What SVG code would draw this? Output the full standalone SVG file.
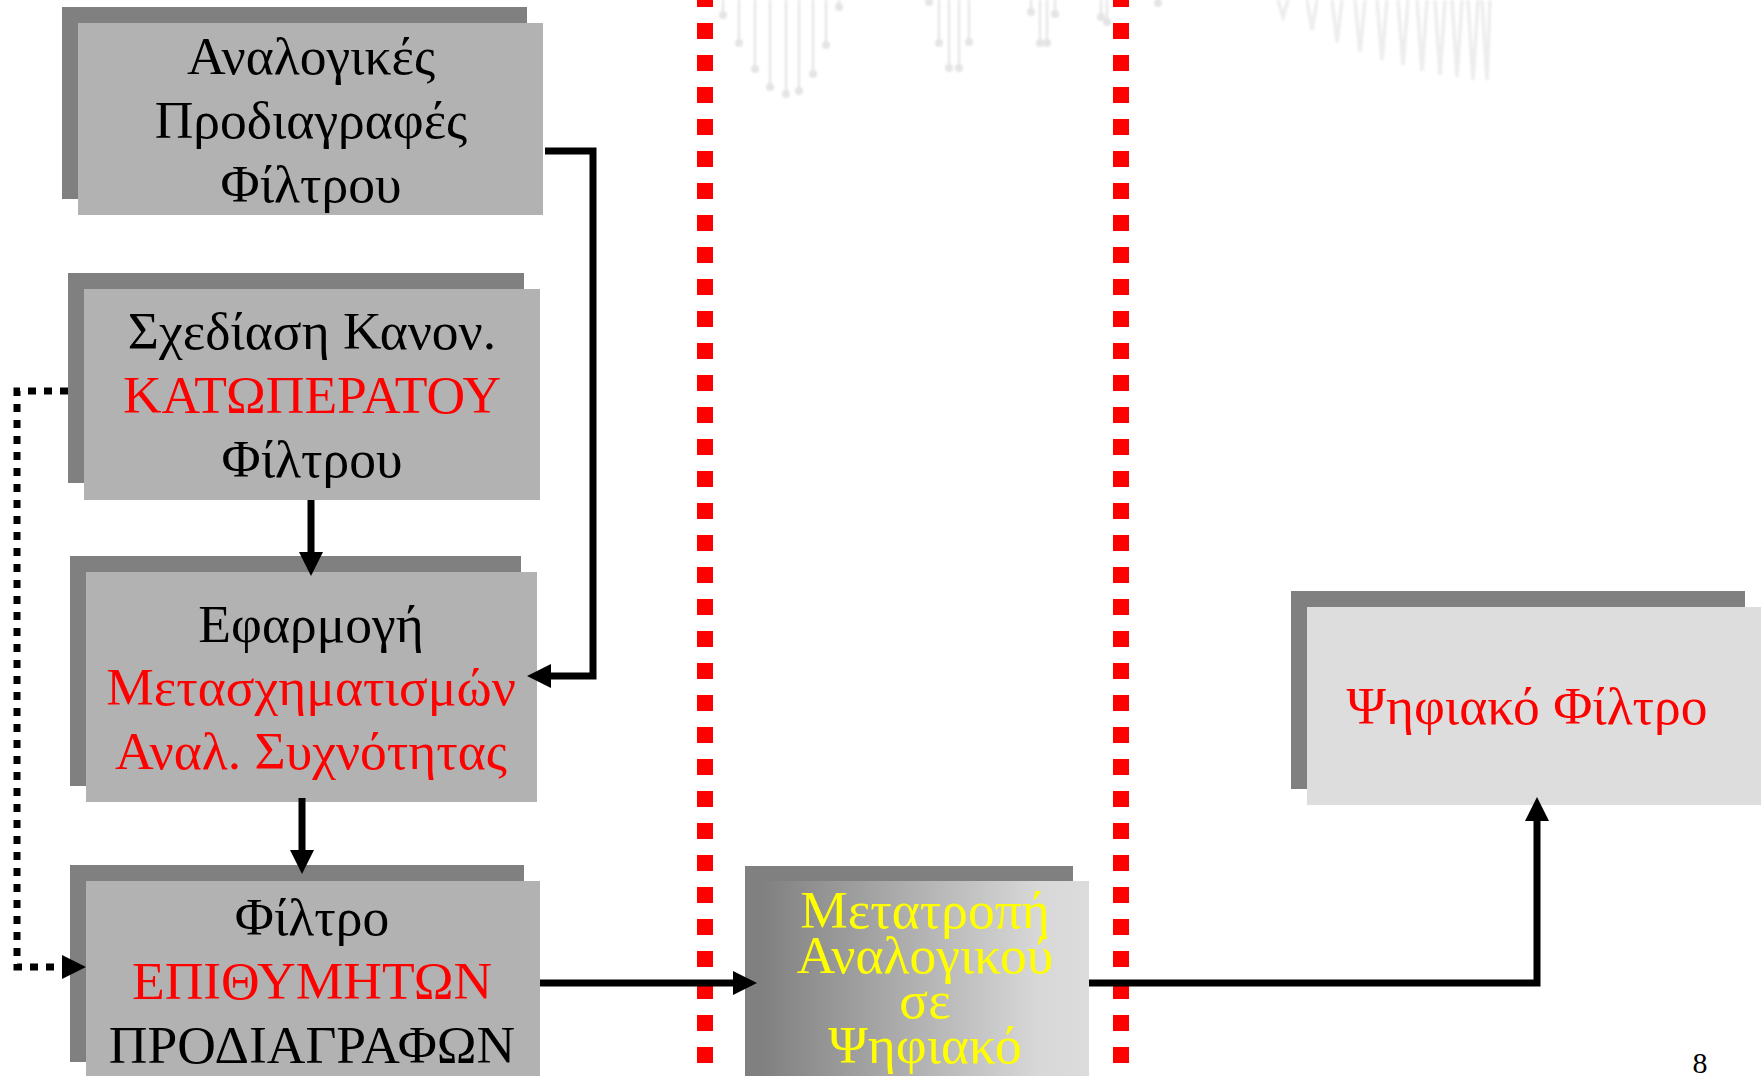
<svg xmlns="http://www.w3.org/2000/svg" width="1761" height="1076" viewBox="0 0 1761 1076">
<defs>
<style>
.shadow{fill:#808080}
.front{fill:#b2b2b2}
.t{font-family:"Liberation Serif","Times New Roman",serif;font-size:53.5px;text-anchor:middle}
.k{fill:#000}
.r{fill:#ff0000}
.y{fill:#ffff00}
.conn{fill:none;stroke:#000;stroke-width:7}
.dot{fill:none;stroke:#000;stroke-width:7;stroke-dasharray:8 8}
.sep{fill:none;stroke:#ff0000;stroke-width:16;stroke-dasharray:16 16}
.wm{stroke:#e6e6e6;stroke-width:2.5;fill:none}
.wmc{fill:#e4e4e4}
.ice{stroke:#ededed;stroke-width:3.5;fill:none}
</style>
<filter id="soft" x="-5%" y="-20%" width="110%" height="140%">
<feGaussianBlur stdDeviation="1"/>
</filter>
<marker id="ah" viewBox="0 0 24 24" refX="0" refY="12" markerWidth="24" markerHeight="24" markerUnits="userSpaceOnUse" orient="auto">
<path d="M0,0 L24,12 L0,24 Z" fill="#000"/>
</marker>
<linearGradient id="g5" x1="0" y1="0" x2="1" y2="0">
<stop offset="0" stop-color="#808080"/>
<stop offset="0.85" stop-color="#d8d8d8"/>
<stop offset="1" stop-color="#dcdcdc"/>
</linearGradient>
</defs>
<rect width="1761" height="1076" fill="#fff"/>

<g id="watermark" filter="url(#soft)">
<path class="wm" d="M723,0V15 M739,0V43 M755,0V69 M770,0V87 M786,0V94 M799,0V91 M813,0V74 M826,0V45 M839,0V7 M929,0V2 M939,0V43 M949,0V68 M959,0V68 M969,0V42 M1031,0V12 M1040,0V43 M1047,0V43 M1055,0V14 M1101,0V17 M1107,0V22"/>
<g class="wmc">
<circle cx="723" cy="15" r="4"/><circle cx="739" cy="43" r="4"/><circle cx="755" cy="69" r="4"/><circle cx="770" cy="87" r="4"/><circle cx="786" cy="94" r="4"/><circle cx="799" cy="91" r="4"/><circle cx="813" cy="74" r="4"/><circle cx="826" cy="45" r="4"/><circle cx="839" cy="7" r="4"/>
<circle cx="929" cy="2" r="4"/><circle cx="939" cy="43" r="4"/><circle cx="949" cy="68" r="4"/><circle cx="959" cy="68" r="4"/><circle cx="969" cy="42" r="4"/>
<circle cx="1031" cy="12" r="4"/><circle cx="1040" cy="43" r="4"/><circle cx="1047" cy="43" r="4"/><circle cx="1055" cy="14" r="4"/><circle cx="1101" cy="17" r="4"/><circle cx="1107" cy="22" r="4"/><circle cx="1158" cy="3" r="4"/>
</g>
<path class="ice" d="M1278,0L1283,17L1288,0 M1307,0L1312,30L1317,0 M1332,0L1337,42L1342,0 M1355,0L1360,52L1365,0 M1377,0L1382,60L1387,0 M1398,0L1403,65L1408,0 M1417,0L1422,71L1427,0 M1435,0L1440,75L1445,0 M1452,0L1457,77L1462,0 M1468,0L1473,80L1478,0 M1482,0L1487,80L1490,0"/>
</g>

<g id="separators">
<line class="sep" x1="705" y1="-9" x2="705" y2="1076"/>
<line class="sep" x1="1121" y1="-9" x2="1121" y2="1076"/>
</g>

<g id="node-analog-specs">
<rect class="shadow" x="62" y="7" width="465" height="192"/>
<rect class="front" x="78" y="23" width="465" height="192"/>
<text class="t k" x="311" y="74">Αναλογικές</text>
<text class="t k" x="311" y="138">Προδιαγραφές</text>
<text class="t k" x="311" y="202">Φίλτρου</text>
</g>

<g id="node-lowpass">
<rect class="shadow" x="68" y="273" width="456" height="210"/>
<rect class="front" x="84" y="289" width="456" height="211"/>
<text class="t k" x="312" y="349">Σχεδίαση Κανον.</text>
<text class="t r" x="312" y="413">ΚΑΤΩΠΕΡΑΤΟΥ</text>
<text class="t k" x="312" y="477">Φίλτρου</text>
</g>

<g id="node-transforms">
<rect class="shadow" x="70" y="556" width="451" height="230"/>
<rect class="front" x="86" y="572" width="451" height="230"/>
<text class="t k" x="311" y="642">Εφαρμογή</text>
<text class="t r" x="311" y="705">Μετασχηματισμών</text>
<text class="t r" x="311" y="769">Αναλ. Συχνότητας</text>
</g>

<g id="node-desired">
<rect class="shadow" x="70" y="865" width="454" height="197"/>
<rect class="front" x="86" y="881" width="454" height="200"/>
<text class="t k" x="312" y="935">Φίλτρο</text>
<text class="t r" x="312" y="999">ΕΠΙΘΥΜΗΤΩΝ</text>
<text class="t k" x="312" y="1063">ΠΡΟΔΙΑΓΡΑΦΩΝ</text>
</g>

<g id="node-a2d">
<rect class="shadow" x="745" y="866" width="328" height="215"/>
<rect x="761" y="881" width="328" height="200" fill="url(#g5)"/>
<text class="t y" x="925" y="928">Μετατροπή</text>
<text class="t y" x="925" y="973">Αναλογικού</text>
<text class="t y" x="925" y="1018">σε</text>
<text class="t y" x="925" y="1063">Ψηφιακό</text>
</g>

<g id="node-digital">
<rect class="shadow" x="1291" y="591" width="454" height="198"/>
<rect x="1307" y="607" width="460" height="198" fill="#dddddd"/>
<text class="t r" x="1527" y="724">Ψηφιακό Φίλτρο</text>
</g>

<g id="connectors">
<path class="conn" d="M545,151 H593 V676 H551" marker-end="url(#ah)"/>
<path class="conn" d="M311,500 V552" marker-end="url(#ah)"/>
<path class="conn" d="M302,798 V850" marker-end="url(#ah)"/>
<path class="dot" d="M68,391 H17 V967 H62"/>
<path d="M62,955 L86,967 L62,979 Z" fill="#000"/>
<path class="conn" d="M540,983 H733" marker-end="url(#ah)"/>
<path class="conn" d="M1089,983 H1537 V821" marker-end="url(#ah)"/>
</g>

<text x="1700" y="1073" style="font-family:'Liberation Serif','Times New Roman',serif;font-size:30px;text-anchor:middle">8</text>
</svg>
